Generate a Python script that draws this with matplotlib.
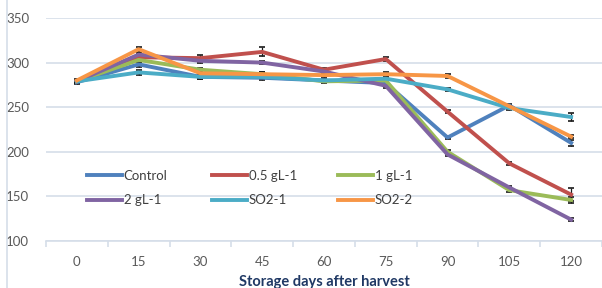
import numpy as np
import matplotlib
matplotlib.use("Agg")
import matplotlib.pyplot as plt
from matplotlib.lines import Line2D

plt.rcParams['font.family'] = ['Lato', 'DejaVu Sans']

days = ['0', '15', '30', '45', '60', '75', '90', '105', '120']
names = ['Control', '0.5 gL-1', '1 gL-1', '2 gL-1', 'SO2-1', 'SO2-2']
colors = ['#4F81BD', '#C0504D', '#9BBB59', '#8064A2', '#4BACC6', '#F79646']

control = [278, 298, 284, 283, 280, 277, 216, 252, 210]
half_g = [279, 306, 305, 312, 292, 304, 245, 187, 152]
one_g = [279, 303, 292, 287, 279, 280, 200, 157, 146]
two_g = [279, 309, 302, 300, 290, 274, 197, 160, 124]
so2_1 = [279, 289, 284, 284, 280, 282, 270, 249, 239]
so2_2 = [280, 315, 288, 287, 286, 287, 285, 251, 217]

err_control = [2, 3, 2, 2, 2, 2, 2, 2, 3]
err_half = [2, 2, 3, 5, 2, 2, 2, 2, 7]
err_one = [2, 2, 2, 2, 2, 2, 2, 2, 3]
err_two = [2, 2, 2, 2, 2, 2, 2, 2, 2]
err_so2_1 = [2, 3, 2, 2, 2, 2, 2, 2, 4]
err_so2_2 = [2, 3, 2, 2, 2, 2, 2, 2, 2]

series = [control, half_g, one_g, two_g, so2_1, so2_2]
errs = [err_control, err_half, err_one, err_two, err_so2_1, err_so2_2]

fig = plt.figure(figsize=(6.02, 2.88), dpi=100)
ax = fig.add_axes([46 / 602, 47 / 288, 556 / 602, 223 / 288])

x = np.arange(len(days))
for vals, e, c, n in zip(series, errs, colors, names):
    ax.errorbar(x, vals, yerr=e, color=c, lw=2.8, ecolor='#1a1a1a',
                elinewidth=0.9, capsize=2.5, capthick=1.2, label=n, zorder=3)

ax.set_ylim(100, 350)
ax.set_yticks([100, 150, 200, 250, 300, 350])
ax.set_xlim(-0.5, 556 / 63.6 - 0.5)
ax.set_xticks(x)
ax.set_xticklabels(days)
ax.set_xticks(np.arange(-0.5, 9, 1), minor=True)

ax.grid(axis='y', color='#D5DEE9', lw=1.2, zorder=0)
for s in ['top', 'right', 'left']:
    ax.spines[s].set_visible(False)
ax.spines['bottom'].set_color('#D5DEE9')
ax.spines['bottom'].set_linewidth(1.2)
ax.tick_params(axis='y', length=0, pad=12, labelsize=9.5, labelcolor='#595959')
ax.tick_params(axis='x', which='major', length=0, pad=11, labelsize=9.5,
               labelcolor='#595959')
ax.tick_params(axis='x', which='minor', length=4, color='#D5DEE9', width=1.2)

ax.set_xlabel('Storage days after harvest', fontsize=10.5, fontweight='bold',
              color='#1F3864', labelpad=5)

# legend: Excel style, entries left to right, equal column widths
col_x = [80, 205, 331]
for col in range(3):
    idx = [col, col + 3]
    hs = [Line2D([], [], color=colors[i], lw=2.8) for i in idx]
    fig.legend(hs, [names[i] for i in idx], loc='upper left', frameon=False,
               bbox_to_anchor=(col_x[col] / 602, (288 - 163) / 288),
               borderpad=0, handlelength=2.7, handletextpad=0.1,
               labelspacing=0.95, prop={'size': 9.5}, labelcolor='#404040')

fig.add_artist(Line2D([7 / 602, 7 / 602], [0, 1], color='#D5DEE9', lw=1.2))

fig.savefig('out.png', dpi=100)
